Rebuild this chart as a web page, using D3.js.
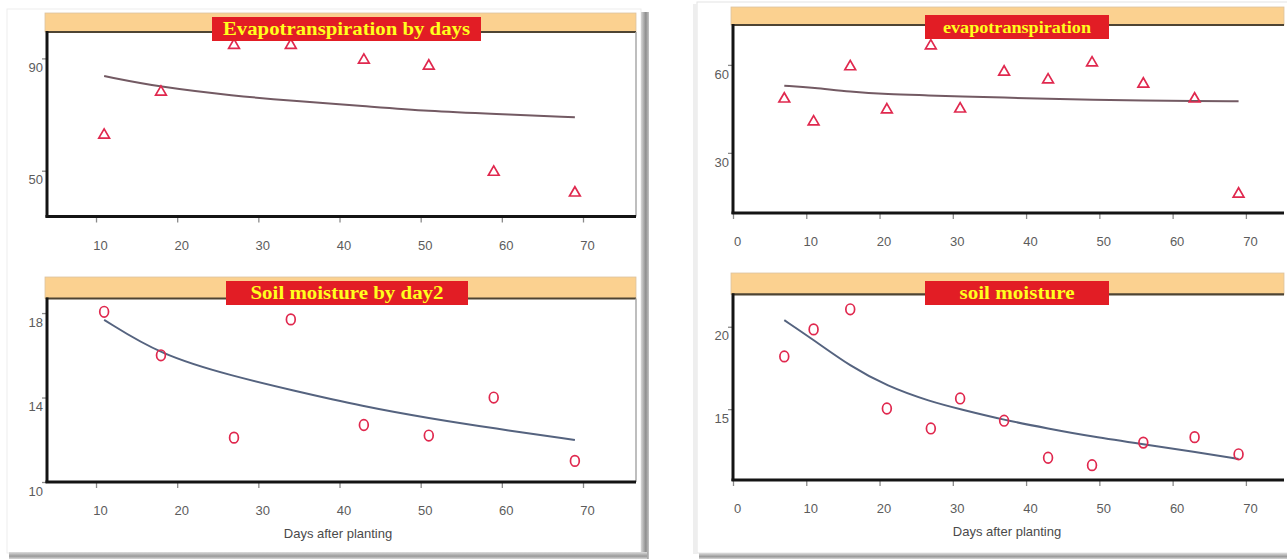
<!DOCTYPE html>
<html>
<head>
<meta charset="utf-8">
<script src="https://cdn.jsdelivr.net/npm/d3@7"></script>
<style>
    body { margin: 0; background: #fff; }
    svg { display: block; }
    .tick text { font-family: "Liberation Sans", Arial, sans-serif; font-size: 13px; fill: #5c5c5c; }
    .tick line { stroke: #8a8a8a; stroke-width: 1.3; }
    .xlab { font-family: "Liberation Sans", Arial, sans-serif; font-size: 13px; fill: #4a4a4a; }
    .ttl { font-family: "Liberation Serif", "Times New Roman", serif; font-weight: bold; fill: #ffff1e; }
</style>
</head>
<body>
<svg id="chart" width="1287" height="559"></svg>
<script>

// days of sampling
var daysA = [11, 18, 27, 34, 43, 51, 59, 69];
var daysB = [7, 11, 16, 21, 27, 31, 37, 43, 49, 56, 63, 69];

// left card (8 samples)
var etA = [62.7, 78.0, 94.7, 94.7, 89.4, 87.3, 49.5, 42.1];
var etAFit = [83.7, 79.7, 76.7, 74.9, 73.0, 71.2, 70.2, 69.0];
var smA = [18.06, 16.0, 12.1, 17.7, 12.7, 12.2, 14.0, 11.0];
var smAFit = [17.68, 16.0, 15.0, 14.36, 13.57, 13.02, 12.54, 11.99];

// right card (12 samples)
var etB = [48.4, 40.6, 59.4, 44.7, 66.5, 45.0, 57.6, 54.9, 60.7, 53.5, 48.4, 16.0];
var etBFit = [52.9, 52.2, 50.8, 50.0, 49.6, 49.2, 48.9, 48.4, 48.1, 47.8, 47.7, 47.6];
var smB = [18.2, 19.84, 21.06, 15.04, 13.83, 15.65, 14.3, 12.05, 11.6, 12.97, 13.3, 12.26];
var smBFit = [20.4, 19.2, 17.6, 16.4, 15.45, 15.0, 14.34, 13.83, 13.33, 12.87, 12.42, 11.97];

// ticks
var xTicksA = [10, 20, 30, 40, 50, 60, 70];
var xTicksB = [0, 10, 20, 30, 40, 50, 60, 70];
var yTicksEtA = [50, 90];
var yTicksSmA = [10, 14, 18];
var yTicksEtB = [30, 60];
var yTicksSmB = [15, 20];

var titles = ["Evapotranspiration by days", "Soil moisture by day2", "evapotranspiration", "soil moisture"];
var xTitle = "Days after planting";

var svg = d3.select("#chart");

// cards + shadows (drawn first)
var defs = svg.append("defs");
var gv = defs.append("linearGradient").attr("id", "shV").attr("x1", 0).attr("x2", 1).attr("y1", 0).attr("y2", 0);
gv.append("stop").attr("offset", "0%").attr("stop-color", "#d6d6d6");
gv.append("stop").attr("offset", "60%").attr("stop-color", "#8e8e8e");
gv.append("stop").attr("offset", "100%").attr("stop-color", "#c4c4c4");
var gh = defs.append("linearGradient").attr("id", "shH").attr("x1", 0).attr("x2", 0).attr("y1", 0).attr("y2", 1);
gh.append("stop").attr("offset", "0%").attr("stop-color", "#dcdcdc");
gh.append("stop").attr("offset", "60%").attr("stop-color", "#9a9a9a");
gh.append("stop").attr("offset", "100%").attr("stop-color", "#d8d8d8");

svg.append("rect").attr("x", 7).attr("y", 9).attr("width", 634).attr("height", 544)
    .attr("fill", "#fff").attr("stroke", "#ededed");
svg.append("rect").attr("x", 641).attr("y", 12).attr("width", 8).attr("height", 547).attr("fill", "url(#shV)");
svg.append("rect").attr("x", 9).attr("y", 552).attr("width", 638).attr("height", 7).attr("fill", "url(#shH)");

svg.append("rect").attr("x", 697).attr("y", 2).attr("width", 595).attr("height", 551)
    .attr("fill", "#fff").attr("stroke", "#e4e4e4");
svg.append("rect").attr("x", 693).attr("y", 4).attr("width", 4).attr("height", 550).attr("fill", "#eeeeee");
svg.append("rect").attr("x", 699).attr("y", 553).attr("width", 590).attr("height", 6).attr("fill", "url(#shH)");

// panel setup - pixel boxes
var panels = [
    { days: daysA, vals: etA, fit: etAFit, xd: [3.96, 76.53], yd: [33.7, 99.4], xt: xTicksA, yt: yTicksEtA,
      box: { l: 47, r: 636, t: 32, b: 216.5, bandTop: 13 }, mark: "tri", fitColor: "#735a63",
      title: titles[0], tbox: [212, 17, 269, 24], tsize: 18, tlen: 247 },
    { days: daysA, vals: smA, fit: smAFit, xd: [3.96, 76.53], yd: [10, 18.69], xt: xTicksA, yt: yTicksSmA,
      box: { l: 47, r: 636, t: 298.5, b: 482, bandTop: 277 }, mark: "circ", fitColor: "#55637f",
      title: titles[1], tbox: [226, 281, 242, 24], tsize: 18, tlen: 193, xlabel: 338 },
    { days: daysB, vals: etB, fit: etBFit, xd: [0, 75.2], yd: [9.5, 73.6], xt: xTicksB, yt: yTicksEtB,
      box: { l: 733, r: 1284, t: 25, b: 213, bandTop: 7, open: true }, mark: "tri", fitColor: "#735a63",
      title: titles[2], tbox: [925, 15, 184, 24], tsize: 16, tlen: 148 },
    { days: daysB, vals: smB, fit: smBFit, xd: [0, 75.2], yd: [10.7, 21.97], xt: xTicksB, yt: yTicksSmB,
      box: { l: 733, r: 1284, t: 294.3, b: 480, bandTop: 273, open: true }, mark: "circ", fitColor: "#55637f",
      title: titles[3], tbox: [925, 281, 184, 24], tsize: 18, tlen: 115, xlabel: 1007 }
];

function drawPanel(p) {
    var b = p.box;
    var x = d3.scaleLinear().domain(p.xd).range([b.l, b.r]);
    var y = d3.scaleLinear().domain(p.yd).range([b.b, b.t]);
    var g = svg.append("g");

    // orange header band
    g.append("rect").attr("x", b.l - 2).attr("y", b.bandTop).attr("width", b.r - b.l + 2).attr("height", b.t - b.bandTop)
        .attr("fill", "#fbd190").attr("stroke", "#dcc3a0").attr("stroke-width", 0.8);

    // plot frame
    g.append("rect").attr("x", b.l).attr("y", b.t).attr("width", b.r - b.l).attr("height", b.b - b.t).attr("fill", "#fff");
    g.append("line").attr("x1", b.l - 1).attr("x2", b.r).attr("y1", b.t).attr("y2", b.t)
        .attr("stroke", "#4e4433").attr("stroke-width", 2.2);
    if (!b.open) {
        g.append("line").attr("x1", b.r).attr("x2", b.r).attr("y1", b.t).attr("y2", b.b)
            .attr("stroke", "#a9a9a9").attr("stroke-width", 1.5);
    }

    // axes, labels are offset a bit right/down from the ticks like the original
    var ax = g.append("g").attr("transform", "translate(0," + b.b + ")")
        .call(d3.axisBottom(x).tickValues(p.xt).tickSize(6).tickFormat(d3.format("d")));
    ax.select(".domain").remove();
    ax.selectAll("text").attr("y", 24).attr("dx", 4);

    var ay = g.append("g").attr("transform", "translate(" + b.l + ",0)")
        .call(d3.axisLeft(y).tickValues(p.yt).tickSize(5).tickFormat(d3.format("d")));
    ay.select(".domain").remove();
    ay.selectAll("text").attr("x", -4).attr("y", 9);

    g.append("line").attr("x1", b.l).attr("x2", b.l).attr("y1", b.t - 1).attr("y2", b.b + 1)
        .attr("stroke", "#141414").attr("stroke-width", 3);
    g.append("line").attr("x1", b.l - 1.5).attr("x2", b.r).attr("y1", b.b).attr("y2", b.b)
        .attr("stroke", "#141414").attr("stroke-width", 3);

    // fitted curve (smooth)
    var line = d3.line().x(function (d, i) { return x(p.days[i]); }).y(function (d) { return y(d); })
        .curve(d3.curveBasis);
    g.append("path").datum(p.fit).attr("d", line).attr("fill", "none")
        .attr("stroke", p.fitColor).attr("stroke-width", 2);

    // observed points
    if (p.mark == "tri") {
        g.selectAll("path.pt").data(p.vals).enter().append("path").attr("class", "pt")
            .attr("d", d3.symbol(d3.symbolTriangle, 50))
            .attr("transform", function (d, i) { return "translate(" + x(p.days[i]) + "," + y(d) + ")"; })
            .attr("fill", "none").attr("stroke", "#e0284e").attr("stroke-width", 1.7);
    } else {
        g.selectAll("ellipse.pt").data(p.vals).enter().append("ellipse").attr("class", "pt")
            .attr("cx", function (d, i) { return x(p.days[i]); })
            .attr("cy", function (d) { return y(d); })
            .attr("rx", 4.4).attr("ry", 5.3)
            .attr("fill", "none").attr("stroke", "#e0284e").attr("stroke-width", 1.7);
    }

    // red title tag
    var tb = p.tbox;
    g.append("rect").attr("x", tb[0]).attr("y", tb[1]).attr("width", tb[2]).attr("height", tb[3]).attr("fill", "#e21d25");
    g.append("text").attr("class", "ttl").attr("x", tb[0] + tb[2] / 2).attr("y", tb[1] + tb[3] / 2)
        .attr("text-anchor", "middle").attr("dy", "0.35em")
        .attr("font-size", p.tsize).attr("textLength", p.tlen).attr("lengthAdjust", "spacingAndGlyphs")
        .text(p.title);

    if (p.xlabel) {
        g.append("text").attr("class", "xlab").attr("x", p.xlabel).attr("y", b.b + 56)
            .attr("text-anchor", "middle").text(xTitle);
    }
}

panels.forEach(drawPanel);

</script>
</body>
</html>
